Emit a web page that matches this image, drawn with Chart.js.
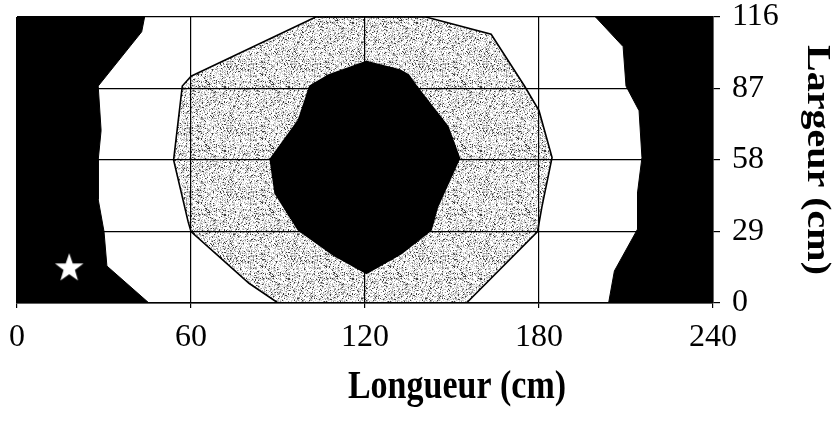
<!DOCTYPE html>
<html>
<head>
<meta charset="utf-8">
<script src="https://cdn.jsdelivr.net/npm/chart.js@4/dist/chart.umd.min.js"></script>
<style>
  html, body { margin: 0; padding: 0; background: #fff; }
  #wrap { width: 837px; height: 432px; position: relative; }
</style>
</head>
<body>
<div id="wrap"><canvas id="c" width="837" height="432"></canvas></div>
<script>
// ---- data ----
const xTicks = [0, 60, 120, 180, 240];
const yTicks = [0, 29, 58, 87, 116];
const xTitle = 'Longueur (cm)';
const yTitle = 'Largeur (cm)';

// outer left zone (black)
const leftZoneX = [0, 0, 44, 43, 28, 29, 28, 28, 30, 31, 45.5, 0];
const leftZoneY = [0, 116, 116, 110, 88, 70, 58, 42, 29, 15, 0, 0];
// outer right zone (black)
const rightZoneX = [199.5, 209, 210, 214.5, 215.5, 214, 214, 206, 204, 240, 240, 199.5];
const rightZoneY = [116, 104, 88, 78, 59, 45, 30, 13, 0, 0, 116, 116];
// middle ring (grey stipple)
const ringX = [60, 57, 54, 59, 60, 80, 90, 155, 179.5, 181, 184.5, 180, 175, 163.5, 141, 103, 60];
const ringY = [92, 88, 58, 33, 29, 8, 0, 0, 29, 39, 59, 78, 88, 109, 116, 116, 92];
// central zone (black)
const coreX = [120.5, 132, 135, 137.7, 148.6, 152.6, 145, 142.8, 132.5, 120.5, 109, 97, 89, 87.3, 97, 101, 107.5, 120.5];
const coreY = [98, 94.5, 92.5, 88, 71.5, 58.7, 39, 29.6, 20, 12, 19.5, 29.6, 44.5, 58.3, 74, 88, 92.5, 98];
// marker (star)
const starX = [18];
const starY = [14.5];

function pts(xs, ys) { return xs.map((x, i) => ({ x: x, y: ys[i] })); }

// deterministic stipple texture for the grey band
function stipple() {
  const c = document.createElement('canvas');
  c.width = 64; c.height = 64;
  const g = c.getContext('2d');
  const img = g.createImageData(64, 64);
  for (let y = 0; y < 64; y++) {
    for (let x = 0; x < 64; x++) {
      let h = Math.imul(x * 374761393 + y * 668265263, 1274126177) >>> 0;
      h = Math.imul(h ^ (h >>> 13), 1274126177) >>> 0;
      h = (h ^ (h >>> 16)) >>> 0;
      const f = (h % 1000) / 1000;
      let v = 255;
      if (f < 0.07) v = 60; else if (f < 0.2) v = 150; else if (f < 0.38) v = 200; else if (f < 0.52) v = 230;
      const k = (y * 64 + x) * 4;
      img.data[k] = img.data[k + 1] = img.data[k + 2] = v; img.data[k + 3] = 255;
    }
  }
  g.putImageData(img, 0, 0);
  return g.createPattern(c, 'repeat');
}

function starImage() {
  const s = 32, c = document.createElement('canvas');
  c.width = s; c.height = s;
  const g = c.getContext('2d');
  g.fillStyle = '#fff';
  g.beginPath();
  const R = 15, r = 6, cx = s / 2, cy = s / 2 + 1;
  for (let i = 0; i < 10; i++) {
    const a = -Math.PI / 2 + i * Math.PI / 5;
    const rr = i % 2 ? r : R;
    g.lineTo(cx + rr * Math.cos(a), cy + rr * Math.sin(a));
  }
  g.closePath(); g.fill();
  return c;
}

const serif = '"Liberation Serif", "Times New Roman", serif';
const tickFont = { family: serif, size: 32 };

const titles = {
  id: 'axisTitles',
  afterDraw(chart) {
    const ctx = chart.ctx;
    const a = chart.chartArea;
    ctx.save();
    ctx.fillStyle = '#000';
    ctx.textAlign = 'center';
    ctx.textBaseline = 'alphabetic';
    ctx.font = 'bold 40px ' + serif;
    // horizontal title (slightly condensed like the scan)
    ctx.save();
    ctx.translate(457, 398);
    ctx.scale(0.85, 1);
    ctx.fillText(xTitle, 0, 0);
    ctx.restore();
    // vertical title on the right, reading top to bottom
    ctx.save();
    ctx.translate(808, (a.top + a.bottom) / 2);
    ctx.scale(0.85, 1);
    ctx.rotate(Math.PI / 2);
    ctx.fillText(yTitle, 0, 0);
    ctx.restore();
    ctx.restore();
  }
};

const pattern = stipple();

new Chart(document.getElementById('c'), {
  type: 'scatter',
  data: {
    datasets: [
      { label: 'star', data: pts(starX, starY), pointStyle: starImage(), pointRadius: 16, showLine: false, order: 0 },
      { label: 'core', data: pts(coreX, coreY), showLine: true, fill: 'shape', backgroundColor: '#000', borderColor: '#000', borderWidth: 1.5, pointRadius: 0, tension: 0, order: 1 },
      { label: 'ring', data: pts(ringX, ringY), showLine: true, fill: 'shape', backgroundColor: pattern, borderColor: '#000', borderWidth: 1.6, pointRadius: 0, tension: 0, order: 2 },
      { label: 'left', data: pts(leftZoneX, leftZoneY), showLine: true, fill: 'shape', backgroundColor: '#000', borderColor: '#000', borderWidth: 1, pointRadius: 0, tension: 0, order: 3 },
      { label: 'right', data: pts(rightZoneX, rightZoneY), showLine: true, fill: 'shape', backgroundColor: '#000', borderColor: '#000', borderWidth: 1, pointRadius: 0, tension: 0, order: 3 }
    ]
  },
  options: {
    responsive: false,
    animation: false,
    layout: { padding: { left: 14, top: 17, right: 0, bottom: 0 } },
    plugins: { legend: { display: false }, tooltip: { enabled: false } },
    scales: {
      x: {
        type: 'linear', position: 'bottom', min: 0, max: 240,
        afterBuildTicks(s) { s.ticks = xTicks.map(v => ({ value: v })); },
        afterFit(s) { s.height = 129; s.paddingLeft = 0; s.paddingRight = 0; },
        grid: { color: '#000', lineWidth: 1.2, drawTicks: true, tickLength: 5, z: 1 },
        border: { color: '#000', width: 1.5, z: 2 },
        ticks: { color: '#000', font: tickFont, padding: 10, maxRotation: 0, autoSkip: false, z: 2 }
      },
      y: {
        type: 'linear', position: 'right', min: 0, max: 116,
        afterBuildTicks(s) { s.ticks = yTicks.map(v => ({ value: v })); },
        afterFit(s) { s.width = 124; s.paddingTop = 0; s.paddingBottom = 0; },
        grid: { color: '#000', lineWidth: 1.2, drawTicks: true, tickLength: 7, z: 1 },
        border: { color: '#000', width: 1.5, z: 2 },
        ticks: { color: '#000', font: tickFont, padding: 12, autoSkip: false, z: 2 }
      }
    }
  },
  plugins: [titles]
});
</script>
</body>
</html>
